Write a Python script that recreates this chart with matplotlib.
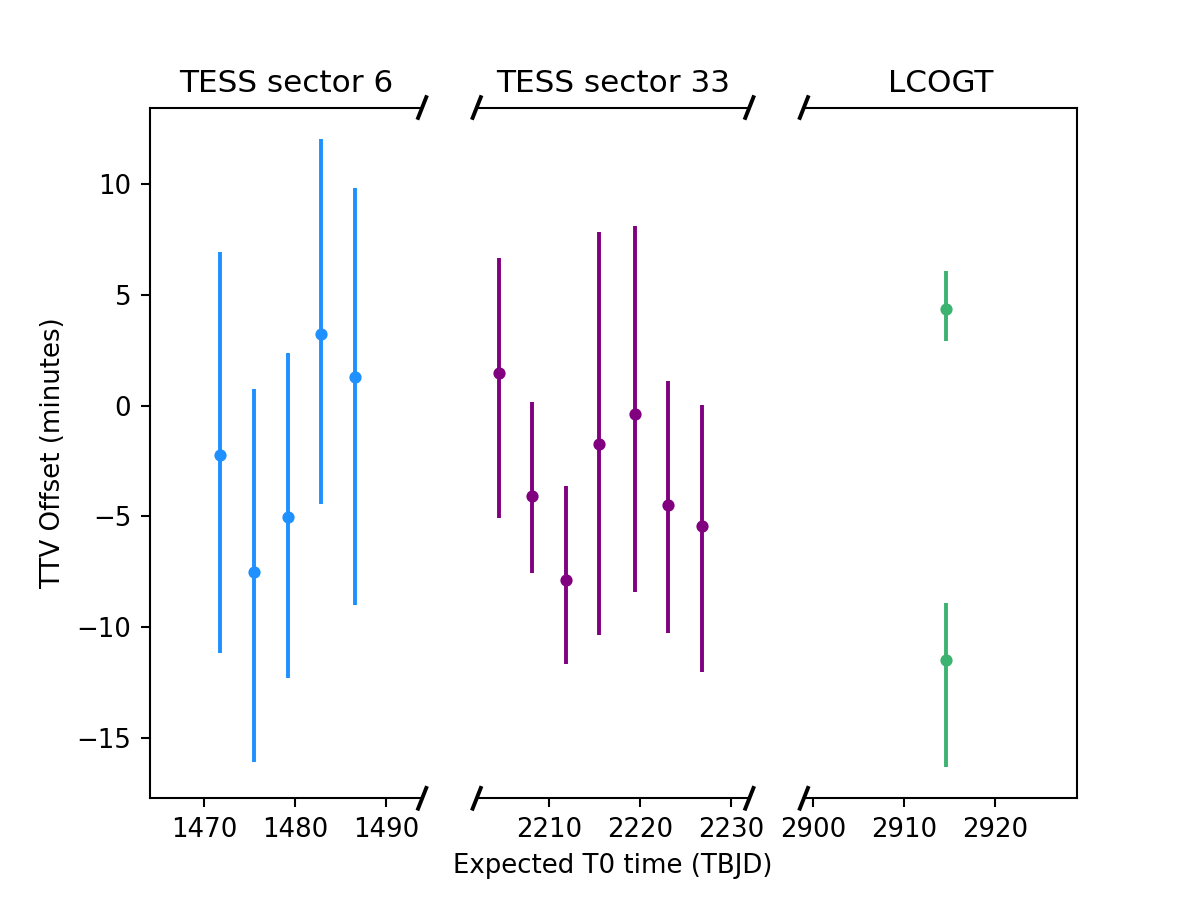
import matplotlib
matplotlib.use("Agg")
import matplotlib.pyplot as plt
from matplotlib.ticker import FixedLocator
import numpy as np

# ---- data ----
titles = ["TESS sector 6", "TESS sector 33", "LCOGT"]
colors = ["dodgerblue", "purple", "mediumseagreen"]

s6_t = [1471.8, 1475.5, 1479.2, 1482.9, 1486.6]
s6_ttv = [-2.25, -7.53, -5.05, 3.22, 1.28]
s6_upper = [6.95, 0.77, 2.39, 12.05, 9.85]
s6_lower = [-11.18, -16.09, -12.29, -4.44, -9.0]

s33_t = [2204.4, 2208.1, 2211.8, 2215.5, 2219.4, 2223.1, 2226.8]
s33_ttv = [1.49, -4.07, -7.87, -1.71, -0.37, -4.49, -5.42]
s33_upper = [6.67, 0.17, -3.62, 7.84, 8.11, 1.11, 0.02]
s33_lower = [-5.09, -7.55, -11.68, -10.36, -8.40, -10.25, -12.04]

lco_t = [2914.6, 2914.6]
lco_ttv = [4.38, -11.48]
lco_upper = [6.08, -8.93]
lco_lower = [2.91, -16.32]

xlims = [(1464, 1494), (2202, 2232), (2899, 2929)]
xticks = [[1470, 1480, 1490], [2210, 2220, 2230], [2900, 2910, 2920]]
yticks = [-15, -10, -5, 0, 5, 10]

groups = [
    (s6_t, s6_ttv, s6_upper, s6_lower),
    (s33_t, s33_ttv, s33_upper, s33_lower),
    (lco_t, lco_ttv, lco_upper, lco_lower),
]

fig, axes = plt.subplots(1, 3, sharey=True, figsize=(6.4, 4.8), dpi=186.9)
fig.subplots_adjust(wspace=0.2)

for ax, (t, v, up, lo), col, title, xl, xt in zip(axes, groups, colors, titles, xlims, xticks):
    v = np.array(v)
    yerr = [v - np.array(lo), np.array(up) - v]
    ax.errorbar(t, v, yerr=yerr, fmt='o', ms=3.7, color=col, ecolor=col, elinewidth=1.5)
    ax.set_title(title)
    ax.set_xlim(*xl)
    ax.xaxis.set_major_locator(FixedLocator(xt))

axes[0].yaxis.set_major_locator(FixedLocator(yticks))

axes[0].spines['right'].set_visible(False)
axes[1].spines['left'].set_visible(False)
axes[1].spines['right'].set_visible(False)
axes[2].spines['left'].set_visible(False)
axes[1].tick_params(left=False)
axes[2].tick_params(left=False)

axes[0].set_ylabel("TTV Offset (minutes)")
axes[1].set_xlabel("Expected T0 time (TBJD)")

d = 0.015
def marks(ax, side):
    kw = dict(transform=ax.transAxes, color='k', clip_on=False, lw=1.5)
    x0 = 1 if side == 'right' else 0
    ax.plot((x0 - d, x0 + d), (-d, +d), **kw)
    ax.plot((x0 - d, x0 + d), (1 - d, 1 + d), **kw)

marks(axes[0], 'right')
marks(axes[1], 'left')
marks(axes[1], 'right')
marks(axes[2], 'left')

fig.savefig("out.png", dpi=186.9)
